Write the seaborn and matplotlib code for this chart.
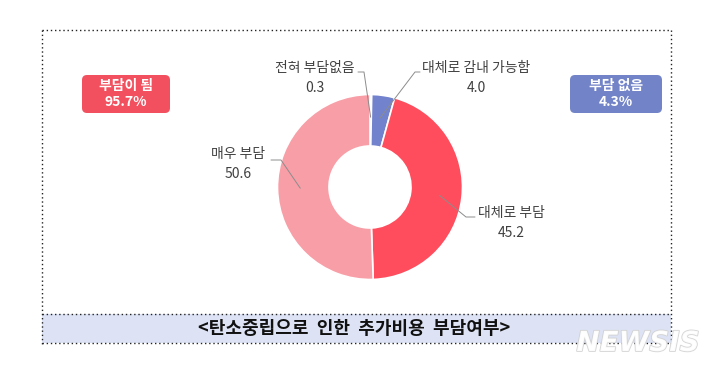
"""
Donut chart: 탄소중립으로 인한 추가비용 부담여부
"""

import numpy as np
import matplotlib
matplotlib.use("Agg")
import matplotlib.pyplot as plt
import matplotlib.patheffects as pe
from matplotlib.patches import FancyBboxPatch, Rectangle
import seaborn as sns

# ── Data ──────────────────────────────────────────────────────────────────────
slice_labels = ["전혀 부담없음", "대체로 감내 가능함", "대체로 부담", "매우 부담"]
slice_values = [0.3, 4.0, 45.2, 50.6]

badge_labels = ["부담이 됨", "부담 없음"]
badge_values = [95.7, 4.3]

title_text = "<탄소중립으로  인한  추가비용  부담여부>"

# ── Style ─────────────────────────────────────────────────────────────────────
sns.set_theme(style="white")
plt.rcParams["font.family"] = ["Noto Sans CJK KR", "DejaVu Sans"]

slice_colors = ["#e6e6e6", "#7282cc", "#ff4d5d", "#f89ea7"]
badge_colors = ["#f2505e", "#7283c8"]
text_color = "#404040"
line_color = "#8c8c8c"

W, H = 720, 372
CX, CY = 370, 187          # donut centre (pixels, top-down)
R_OUT, R_IN = 92.5, 41


def py(y):
    """top-down pixel -> axes y."""
    return H - y


fig = plt.figure(figsize=(W / 100, H / 100), dpi=100)
ax = fig.add_axes([0, 0, 1, 1])

# ── Donut ─────────────────────────────────────────────────────────────────────
ax.pie(
    slice_values, colors=slice_colors, center=(CX, py(CY)), radius=R_OUT,
    startangle=90, counterclock=False,
    wedgeprops=dict(width=R_OUT - R_IN, edgecolor="white", linewidth=1.2),
)

# label positions / leader elbows (top-down pixels)
label_pos = [(315, 61), (476, 61), (511, 206), (238, 147)]
elbow_pos = [[(358, 72), (364, 72)],
             [(420, 72), (415, 72)],
             [(475, 217), (466, 217)],
             [(271, 160), (281, 160)]]

total = sum(slice_values)
cum = np.cumsum([0] + slice_values[:-1])
for name, val, c0, (lx, ly), elbow in zip(slice_labels, slice_values, cum,
                                          label_pos, elbow_pos):
    theta = np.deg2rad(90 - 360 * (c0 + val / 2) / total)
    r_mid = (R_OUT + R_IN) / 2 + 3
    ex, ey = CX + r_mid * np.cos(theta), py(CY) + r_mid * np.sin(theta)
    xs = [p[0] for p in elbow] + [ex]
    ys = [py(p[1]) for p in elbow] + [ey]
    ax.plot(xs, ys, color=line_color, lw=0.7, zorder=5)
    ax.text(lx, py(ly), f"{name}\n{val:.1f}", ha="center", va="top",
            fontsize=10, color=text_color, linespacing=1.55)

# ── Summary badges ────────────────────────────────────────────────────────────
badge_boxes = [(82, 75, 88, 38), (570, 75, 92, 38)]
for lab, val, col, (bx, by, bw, bh) in zip(badge_labels, badge_values,
                                            badge_colors, badge_boxes):
    ax.add_patch(FancyBboxPatch((bx, py(by + bh)), bw, bh,
                                boxstyle="round,pad=0,rounding_size=5",
                                facecolor=col, edgecolor="none", zorder=3))
    ax.text(bx + bw / 2, py(by + bh / 2), f"{lab}\n{val:.1f}%",
            ha="center", va="center", fontsize=10, fontweight="bold",
            color="white", linespacing=1.25, zorder=4)

# ── Frame and title band ──────────────────────────────────────────────────────
dot = dict(color="#222222", lw=1, linestyle=(0, (1, 2)))
L, Rt, T, B = 42, 671, 30, 345
ax.add_patch(Rectangle((L, py(343)), Rt - L, 29, facecolor="#dde3f4",
                       edgecolor="none", zorder=1))
ax.plot([L, Rt], [py(T), py(T)], **dot)
ax.plot([L, L], [py(T), py(B)], **dot)
ax.plot([Rt, Rt], [py(T), py(B)], **dot)
ax.plot([L, Rt], [py(314), py(314)], **dot)
ax.plot([L, Rt], [py(343), py(343)], **dot)
ax.text((L + Rt) / 2 - 2, py(329), title_text, ha="center", va="center",
        fontsize=13, fontweight="bold", color="#111111", zorder=2)

# watermark
ax.text(638, py(343), "NEWSIS", ha="center", va="center", fontsize=20,
        fontweight="bold", fontstyle="italic", family="DejaVu Sans",
        color="white", alpha=0.9, zorder=6,
        path_effects=[pe.withStroke(linewidth=1.2, foreground="#cfcfcf")])

ax.set_xlim(0, W)
ax.set_ylim(0, H)
ax.set_aspect("equal")
ax.axis("off")

fig.savefig("out.png", dpi=100, facecolor="white")
